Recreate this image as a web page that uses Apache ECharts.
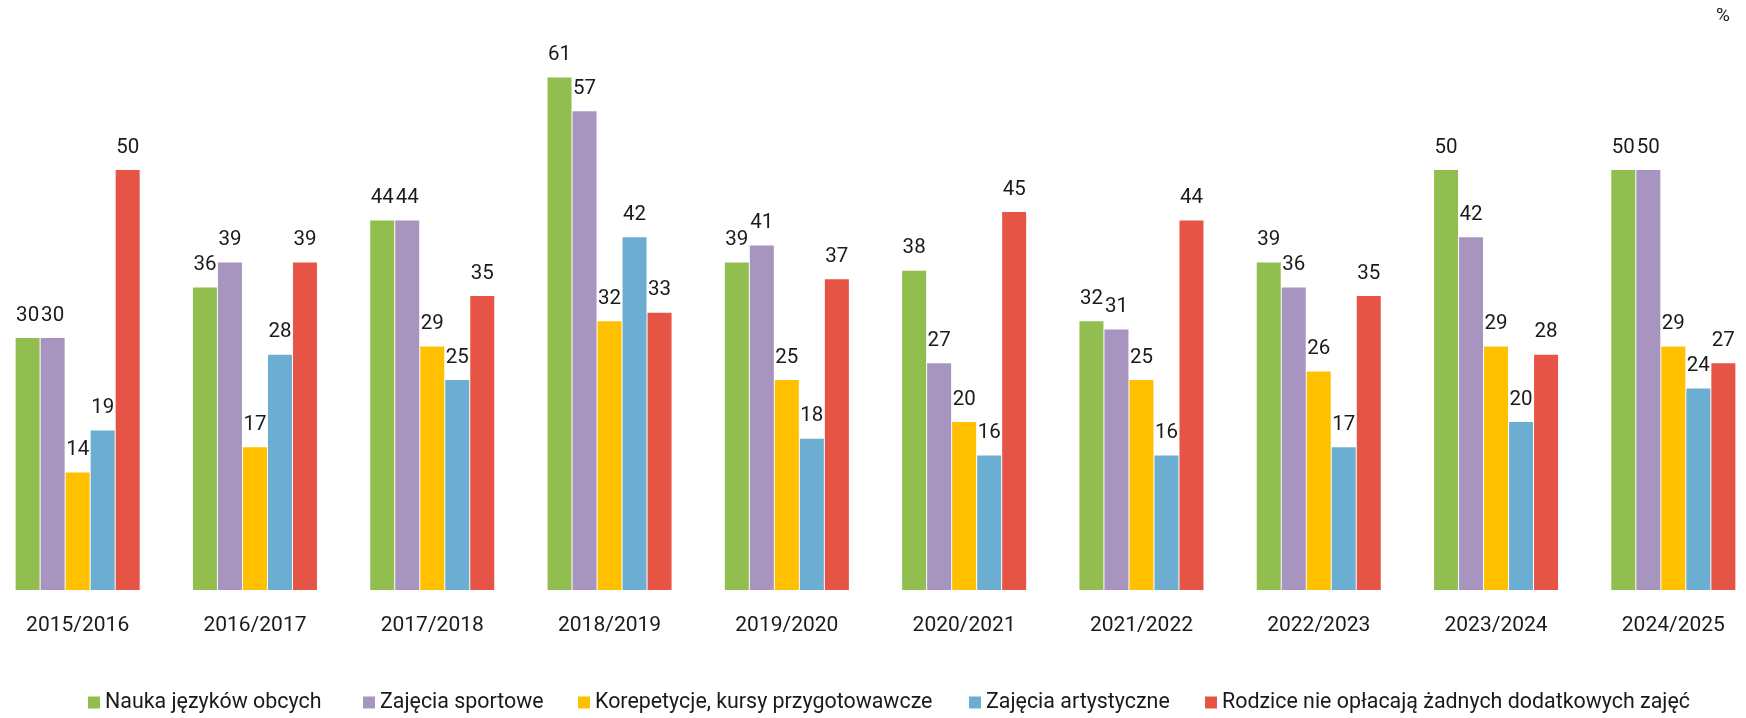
<!DOCTYPE html>
<html>
<head>
<meta charset="utf-8">
<script src="https://cdn.jsdelivr.net/npm/echarts@6/dist/echarts.min.js"></script>
<style>html,body{margin:0;padding:0;background:#fff;overflow:hidden;width:1746px;height:718px;}#c{position:absolute;left:-11px;top:0;width:1773px;height:718px;}</style>
</head>
<body>
<div id="c"></div>
<script>
const categories = ['2015/2016','2016/2017','2017/2018','2018/2019','2019/2020','2020/2021','2021/2022','2022/2023','2023/2024','2024/2025'];
const seriesNames = ['Nauka języków obcych','Zajęcia sportowe','Korepetycje, kursy przygotowawcze','Zajęcia artystyczne','Rodzice nie opłacają żadnych dodatkowych zajęć'];
const jezyki = [30,36,44,61,39,38,32,39,50,50];
const sport = [30,39,44,57,41,27,31,36,42,50];
const korepetycje = [14,17,29,32,25,20,25,26,29,29];
const artystyczne = [19,28,25,42,18,16,16,17,20,24];
const brak = [50,39,35,33,37,45,44,35,28,27];
const colors = ['#92BE50','#A794BF','#FFC000','#6BAED2','#E55445'];
const values = [jezyki, sport, korepetycje, artystyczne, brak];

const OFF = 11;
const legendLeft = [88, 363, 578, 969, 1205];
const chart = echarts.init(document.getElementById('c'), null, {renderer:'canvas'});
const FONT = 'Roboto';
chart.setOption({
  animation: false,
  backgroundColor: '#fff',
  textStyle: {fontFamily: FONT},
  grid: {left: 0, right: 0, top: 2, bottom: 128, containLabel: false},
  xAxis: {
    type: 'category', data: categories,
    axisLine: {show: false}, axisTick: {show: false},
    axisLabel: {fontSize: 21, color: '#1a1a1a', margin: 25, fontFamily: FONT}
  },
  yAxis: {type: 'value', min: 0, max: 70, show: false, splitLine: {show: false}},
  legend: seriesNames.map((n, i) => ({
    left: legendLeft[i] + OFF, top: 692, itemWidth: 12, itemHeight: 12, icon: 'rect', padding: 0,
    textStyle: {fontSize: 21.4, color: '#1a1a1a', fontFamily: FONT},
    data: [n]
  })),
  graphic: [{type: 'text', left: 1716 + OFF, top: 7, style: {text: '%', fontSize: 19, fill: '#1a1a1a', fontFamily: FONT}}],
  series: seriesNames.map((n, i) => ({
    name: n, type: 'bar', data: values[i], barWidth: 24, barGap: '4.2%',
    itemStyle: {color: colors[i]},
    label: {show: true, position: 'top', distance: 12, fontSize: 20.5, color: '#1a1a1a', fontFamily: FONT}
  }))
});
</script>
</body>
</html>
